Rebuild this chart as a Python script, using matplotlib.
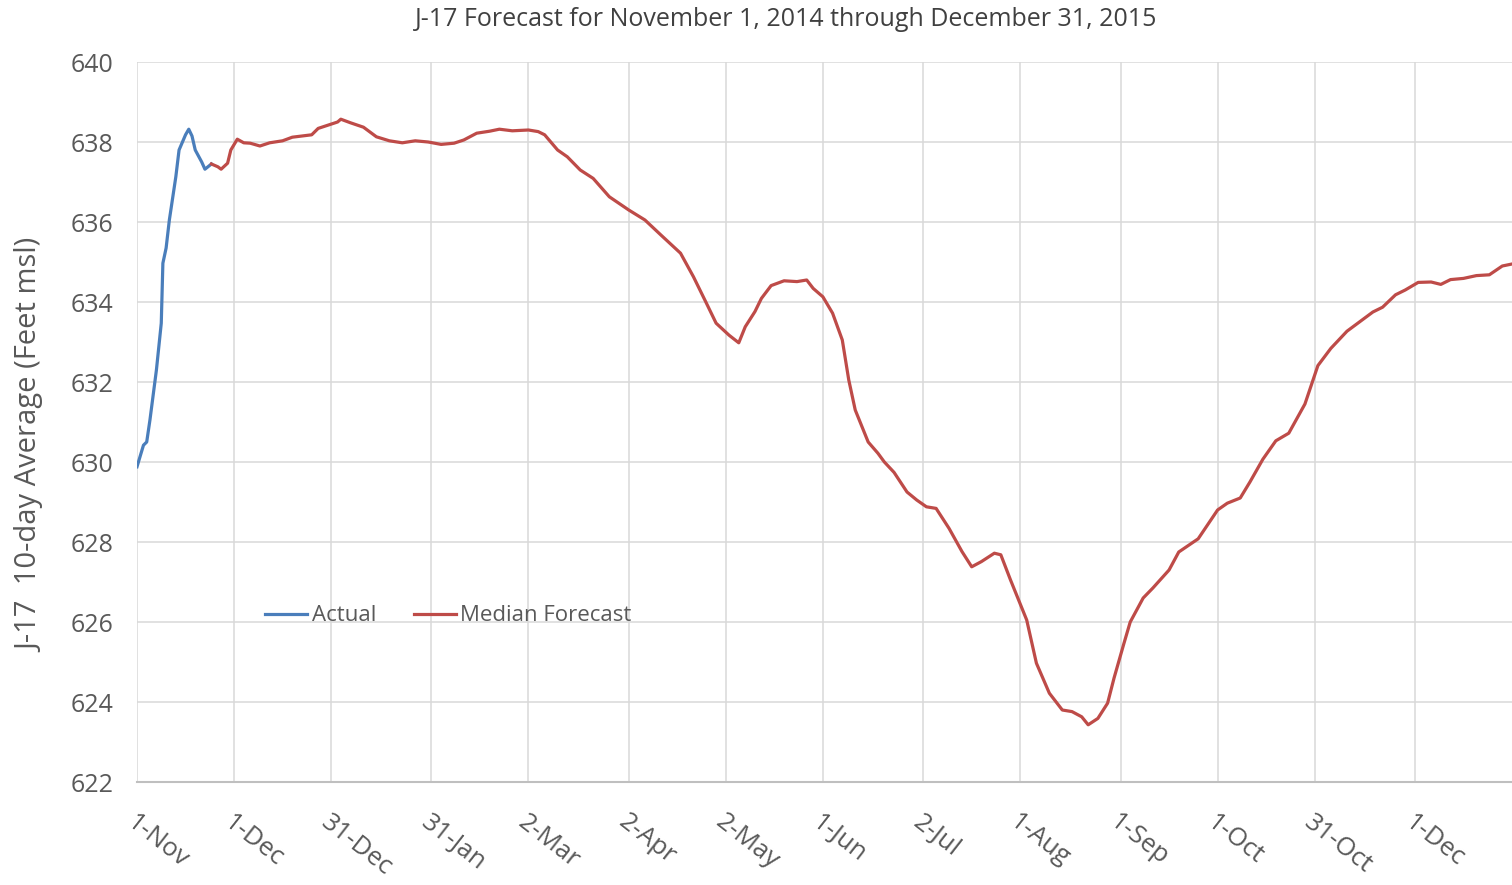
import matplotlib
matplotlib.use("Agg")
import matplotlib.pyplot as plt
import pandas as pd

start = pd.Timestamp("2014-11-01")

# Actual: day offset from 1-Nov-2014, value (feet msl)
actual_days = [0, 2, 3, 4, 6, 7.5, 8, 9, 10, 12, 13, 15, 16, 17, 18, 20, 21, 23]
actual_vals = [629.88, 630.42, 630.5, 631.05, 632.3, 633.47, 634.97, 635.35, 636.05,
               637.13, 637.8, 638.18, 638.32, 638.15, 637.8, 637.5, 637.32, 637.45]

# Median forecast
fc_days = [23, 25, 26, 28, 29, 31, 33, 35, 38, 41, 45, 48, 51, 54, 56, 59, 62, 63, 66, 70,
           74, 78, 82, 86, 90, 94, 98, 101, 105, 109, 112, 116, 121, 124, 126, 130, 133, 137,
           141, 146, 152, 157, 162, 168, 172, 176, 179, 183, 186, 188, 191, 193, 196, 200,
           204, 207, 209, 212, 215, 218, 220, 222, 226, 229, 231, 234, 238, 241, 244, 247,
           251, 255, 258, 261, 265, 267, 270, 275, 278, 282, 286, 289, 292, 294, 297, 300,
           302, 305, 307, 311, 314, 319, 322, 328, 334, 337, 341, 344, 348, 352, 356, 361,
           365, 369, 374, 378, 382, 385, 389, 392, 396, 400, 403, 406, 410, 414, 418, 422, 425]
fc_vals = [637.45, 637.38, 637.32, 637.47, 637.8, 638.07, 637.98, 637.97, 637.90, 637.98,
           638.03, 638.12, 638.15, 638.18, 638.34, 638.42, 638.50, 638.57, 638.48, 638.37,
           638.13, 638.03, 637.98, 638.03, 638.00, 637.94, 637.97, 638.05, 638.22, 638.27,
           638.32, 638.28, 638.30, 638.26, 638.18, 637.80, 637.63, 637.30, 637.09, 636.63,
           636.30, 636.05, 635.67, 635.22, 634.63, 633.97, 633.47, 633.17, 632.98, 633.38,
           633.76, 634.09, 634.41, 634.53, 634.51, 634.55, 634.34, 634.13, 633.72, 633.05,
           632.05, 631.30, 630.50, 630.22, 630.00, 629.74, 629.25, 629.05, 628.88, 628.84,
           628.34, 627.76, 627.38, 627.51, 627.72, 627.68, 627.05, 626.05, 624.97, 624.22,
           623.80, 623.76, 623.63, 623.43, 623.59, 623.97, 624.60, 625.45, 626.00, 626.60,
           626.85, 627.30, 627.75, 628.08, 628.80, 628.97, 629.10, 629.50, 630.07, 630.53,
           630.72, 631.45, 632.41, 632.84, 633.27, 633.51, 633.75, 633.87, 634.18, 634.30,
           634.49, 634.50, 634.44, 634.56, 634.59, 634.66, 634.68, 634.90, 634.95]

tick_dates = ["2014-11-01", "2014-12-01", "2014-12-31", "2015-01-31", "2015-03-02",
              "2015-04-02", "2015-05-02", "2015-06-01", "2015-07-02", "2015-08-01",
              "2015-09-01", "2015-10-01", "2015-10-31", "2015-12-01"]
tick_labels = ["1-Nov", "1-Dec", "31-Dec", "31-Jan", "2-Mar", "2-Apr", "2-May", "1-Jun",
               "2-Jul", "1-Aug", "1-Sep", "1-Oct", "31-Oct", "1-Dec"]
y_ticks = [622, 624, 626, 628, 630, 632, 634, 636, 638, 640]

title = "J-17 Forecast for November 1, 2014 through December 31, 2015"
ylabel = "J-17  10-day Average (Feet msl)"

plt.rcParams['font.family'] = ['Open Sans', 'DejaVu Sans']
gray = "#595959"

fig = plt.figure(figsize=(15.12, 8.85), dpi=100)
ax = fig.add_axes([137/1512, 1 - 782/885, 1 - 137/1512, (782 - 62)/885])

a_x = [start + pd.Timedelta(days=d) for d in actual_days]
f_x = [start + pd.Timedelta(days=d) for d in fc_days]

ax.plot(a_x, actual_vals, color="#4a7ebb", lw=2.3, label="Actual", zorder=3)
ax.plot(f_x, fc_vals, color="#be4b48", lw=2.3, label="Median Forecast", zorder=3)

ax.set_xlim(start, start + pd.Timedelta(days=425))
ax.set_ylim(622, 640)
ax.set_yticks(y_ticks)
ax.set_yticklabels([str(v) for v in y_ticks])
ax.set_xticks([pd.Timestamp(d) for d in tick_dates])
ax.set_xticklabels(tick_labels, rotation=-38, ha='left', va='top',
                   rotation_mode='anchor')

ax.grid(True, color="#d9d9d9", lw=1.1)
ax.set_axisbelow(True)
for s in ['top', 'right', 'left']:
    ax.spines[s].set_visible(False)
ax.spines['bottom'].set_color("#bfbfbf")
ax.spines['bottom'].set_linewidth(1.5)
ax.tick_params(axis='both', length=0, colors=gray)
ax.tick_params(axis='y', pad=17, labelsize=18)
ax.tick_params(axis='x', pad=20, labelsize=18.5)

ax.set_ylabel(ylabel, color=gray, fontsize=21)
ax.yaxis.set_label_coords(-0.067, 0.467)

fig.text(786/1512, 1 - 20/885, title, ha='center', va='center', fontsize=18, color="#404040")

leg = ax.legend(ncol=2, frameon=False, loc='center left',
                bbox_to_anchor=(0.093, 0.2306), handlelength=1.9, handletextpad=0.2,
                columnspacing=1.7, borderpad=0, borderaxespad=0, fontsize=16)
for t in leg.get_texts():
    t.set_color(gray)

fig.savefig("out.png", dpi=100)
